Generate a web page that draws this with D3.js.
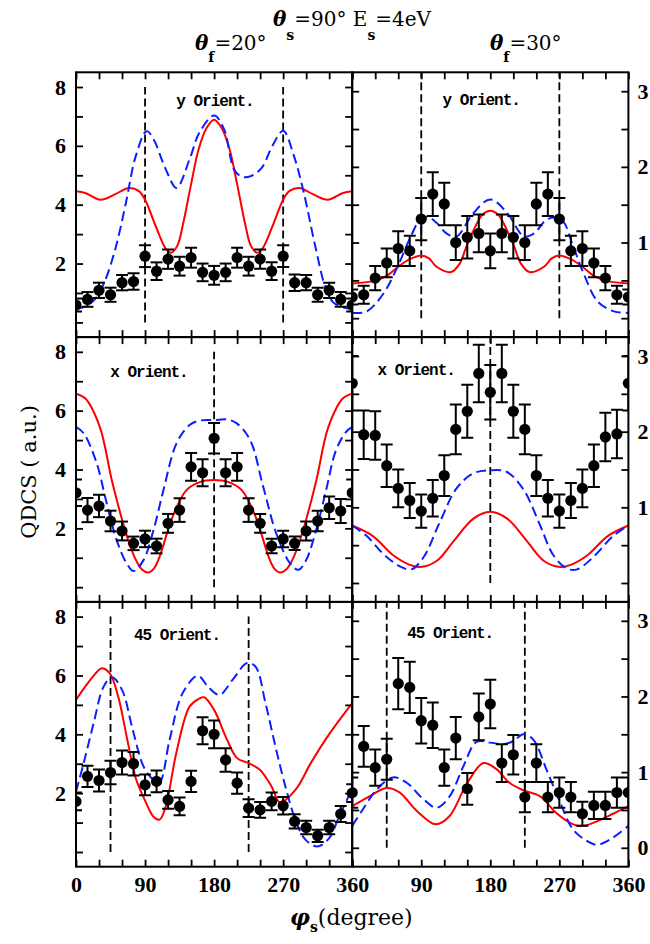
<!DOCTYPE html>
<html>
<head>
<meta charset="utf-8">
<script src="https://cdn.jsdelivr.net/npm/d3@7"></script>
<style>
body { margin: 0; background: #fff; }
</style>
</head>
<body>
<div id="chart"></div>
<script>

// ---- data ----
var phiPts = [0, 15, 30, 45, 60, 75, 90, 105, 120, 135, 150, 165, 180,
              195, 210, 225, 240, 255, 270, 285, 300, 315, 330, 345, 360];
var xTicks = [0, 30, 60, 90, 120, 150, 180, 210, 240, 270, 300, 330, 360];
var xLabels = [0, 90, 180, 270, 360];
var leftTicks = [0, 1, 2, 3, 4, 5, 6, 7, 8];
var leftLabels = [2, 4, 6, 8];
var rightTicks = [0, 0.5, 1, 1.5, 2, 2.5, 3];

// y orientation, theta_f = 20
var tlDots = [0.59, 0.78, 1.09, 0.94, 1.35, 1.39, 2.25, 1.74, 2.15, 1.91, 2.2, 1.70, 1.6,
              1.70, 2.2, 1.91, 2.15, 1.74, 2.25, 1.35, 1.35, 0.94, 1.09, 0.78, 0.59];
var tlErr = [0.22, 0.25, 0.26, 0.24, 0.26, 0.28, 0.37, 0.3, 0.33, 0.32, 0.34, 0.3, 0.32,
             0.3, 0.34, 0.32, 0.33, 0.3, 0.37, 0.28, 0.26, 0.24, 0.26, 0.25, 0.22];
var tlRed = [[0,4.46],[12,4.4],[32,4.17],[50,4.34],[69,4.57],[82,4.46],[90,4.17],[105,3.2],
             [117,2.51],[124,2.37],[132,2.6],[140,3.4],[150,4.7],[160,5.9],[170,6.6],[180,6.89],
             [190,6.6],[200,5.9],[210,4.7],[220,3.4],[228,2.6],[236,2.37],[243,2.51],[255,3.2],
             [270,4.17],[278,4.46],[291,4.57],[310,4.34],[328,4.17],[348,4.4],[360,4.46]];
var tlBlue = [[0,0.46],[12,0.54],[25,0.8],[38,1.43],[52,2.57],[65,4.06],[78,5.66],[92,6.5],
              [101,6.23],[117,5.2],[131,4.57],[148,5.54],[161,6.46],[180,7.03],[193,6.57],
              [206,5.2],[216,4.95],[228,4.97],[242,5.25],[256,6.0],[270,6.51],[284,5.66],
              [297,4.4],[312,2.57],[325,1.2],[335,0.69],[348,0.51],[360,0.46]];

// y orientation, theta_f = 30
var trDots = [0.28, 0.31, 0.53, 0.73, 0.92, 0.89, 1.31, 1.64, 1.51, 1.0, 1.07, 1.12, 0.89,
              1.12, 1.07, 1.0, 1.51, 1.64, 1.31, 0.89, 0.92, 0.73, 0.53, 0.31, 0.28];
var trErr = [0.1, 0.12, 0.16, 0.19, 0.23, 0.2, 0.28, 0.29, 0.28, 0.23, 0.28, 0.25, 0.23,
             0.25, 0.28, 0.23, 0.28, 0.29, 0.28, 0.2, 0.23, 0.19, 0.16, 0.12, 0.1];
var trRed = [[0,0.46],[27,0.49],[45,0.56],[60,0.68],[75,0.78],[90,0.83],[100,0.79],[110,0.68],
             [129,0.61],[140,0.72],[149,0.95],[160,1.2],[170,1.37],[180,1.42],[190,1.37],
             [200,1.2],[211,0.95],[220,0.72],[231,0.61],[250,0.68],[260,0.79],[270,0.83],
             [285,0.78],[300,0.68],[315,0.56],[333,0.49],[360,0.46]];
var trBlue = [[0,0.07],[19,0.09],[41,0.33],[60,0.7],[75,1.05],[90,1.32],[100,1.33],[110,1.26],
              [123,1.12],[136,1.08],[158,1.39],[180,1.57],[202,1.39],[224,1.08],[237,1.12],
              [253,1.3],[265,1.33],[275,1.28],[287,0.98],[302,0.58],[320,0.22],[341,0.09],[360,0.07]];

// x orientation, theta_f = 20
var mlDots = [3.21, 2.62, 2.76, 2.25, 1.91, 1.49, 1.64, 1.40, 2.17, 2.62, 4.09, 3.89, 5.06,
              3.89, 4.09, 2.62, 2.17, 1.40, 1.64, 1.49, 1.91, 2.25, 2.70, 2.59, 3.21];
var mlErr = [0.45, 0.41, 0.38, 0.35, 0.32, 0.23, 0.28, 0.25, 0.32, 0.4, 0.47, 0.46, 0.52,
             0.46, 0.47, 0.4, 0.32, 0.25, 0.28, 0.23, 0.32, 0.35, 0.38, 0.41, 0.45];
var mlRed = [[0,6.58],[12,6.42],[31,5.45],[47,3.6],[64,1.94],[76,1.04],[86,0.6],[94,0.5],
             [102,0.65],[109,1.04],[126,2.4],[144,3.30],[162,3.58],[180,3.64],[198,3.58],
             [216,3.30],[234,2.4],[251,1.04],[258,0.65],[266,0.5],[274,0.6],[284,1.04],
             [296,1.94],[313,3.6],[329,5.45],[348,6.42],[360,6.58]];
var mlBlue = [[0,5.45],[10,5.23],[27,4.21],[40,2.85],[53,1.6],[66,0.81],[75,0.55],[88,0.92],
              [101,1.94],[114,3.3],[131,4.89],[148,5.51],[161,5.66],[180,5.68],[197,5.70],
              [210,5.56],[227,5.0],[244,3.41],[261,1.83],[279,0.81],[290,0.59],[300,0.92],
              [313,1.94],[326,3.3],[339,4.66],[352,5.28],[360,5.45]];

// x orientation, theta_f = 30
var mrDots = [2.64, 1.96, 1.95, 1.55, 1.25, 1.09, 0.95, 1.12, 1.42, 2.03, 2.27, 2.77, 2.52,
              2.77, 2.27, 2.03, 1.42, 1.12, 0.95, 1.09, 1.25, 1.55, 1.93, 1.97, 2.64];
var mrErr = [0.36, 0.32, 0.32, 0.28, 0.25, 0.23, 0.22, 0.24, 0.27, 0.33, 0.35, 0.38, 0.36,
             0.38, 0.35, 0.33, 0.27, 0.24, 0.22, 0.23, 0.25, 0.28, 0.32, 0.32, 0.36];
var mrRed = [[0,0.76],[27,0.62],[53,0.37],[75,0.24],[88,0.21],[110,0.29],[132,0.55],[158,0.85],
             [180,0.94],[202,0.85],[228,0.55],[250,0.29],[272,0.21],[285,0.24],[307,0.37],
             [333,0.62],[360,0.76]];
var mrBlue = [[0,0.76],[19,0.62],[40,0.39],[62,0.22],[77,0.18],[93,0.34],[114,0.8],[136,1.25],
              [158,1.45],[180,1.49],[201,1.47],[223,1.24],[245,0.76],[262,0.37],[280,0.19],
              [293,0.18],[314,0.34],[340,0.62],[360,0.76]];

// 45 orientation, theta_f = 20
var blDots = [1.72, 2.57, 2.43, 2.70, 3.04, 3.0, 2.28, 2.40, 1.77, 1.55, 2.40, 4.12, 4.0,
              3.13, 2.34, 1.49, 1.43, 1.72, 1.57, 1.04, 0.83, 0.55, 0.83, 1.29, 2.0];
var blErr = [0.3, 0.36, 0.37, 0.4, 0.41, 0.4, 0.35, 0.37, 0.3, 0.3, 0.36, 0.46, 0.47,
             0.4, 0.36, 0.3, 0.27, 0.3, 0.3, 0.24, 0.23, 0.21, 0.23, 0.27, 0.3];
var blRed = [[0,5.17],[12,5.62],[24,6.02],[33,6.24],[44,6.07],[55,5.28],[67,3.8],[78,2.5],
             [90,1.75],[101,1.2],[109,1.1],[117,1.55],[131,3.4],[148,4.94],[160,5.2],[167,5.26],
             [180,4.83],[197,3.81],[210,3.19],[225,3.02],[240,2.79],[255,2.22],[266,1.68],
             [286,2.11],[306,3.02],[328,3.93],[360,5.06]];
var blBlue = [[0,2.05],[10,3.02],[23,4.38],[36,5.62],[47,5.94],[60,5.51],[74,4.15],[88,2.91],
              [101,2.45],[109,2.38],[122,3.81],[139,5.40],[159,5.99],[172,5.62],[187,5.34],
              [204,5.85],[223,6.42],[234,6.30],[247,5.06],[260,3.58],[273,2.22],[286,1.09],
              [299,0.42],[315,0.19],[330,0.47],[343,1.21],[360,2.15]];

// 45 orientation, theta_f = 30
var brDots = [0.73, 1.34, 1.06, 1.17, 2.17, 2.12, 1.68, 1.62, 1.06, 1.45, 0.78, 1.73, 1.90,
              1.12, 1.23, 0.67, 1.12, 0.67, 0.73, 0.67, 0.45, 0.56, 0.56, 0.73, 0.73];
var brErr = [0.2, 0.27, 0.24, 0.27, 0.34, 0.34, 0.3, 0.3, 0.24, 0.28, 0.21, 0.31, 0.32,
             0.25, 0.26, 0.2, 0.25, 0.2, 0.2, 0.2, 0.16, 0.18, 0.18, 0.2, 0.2];
var brRed = [[0,0.55],[19,0.66],[45,0.79],[62,0.73],[84,0.49],[109,0.31],[127,0.42],[149,0.84],
             [171,1.12],[188,1.04],[205,0.86],[223,0.76],[245,0.68],[266,0.46],[288,0.31],
             [301,0.29],[319,0.35],[340,0.45],[360,0.55]];
var brBlue = [[0,0.29],[14,0.51],[32,0.77],[53,0.93],[71,0.86],[93,0.64],[110,0.53],[127,0.68],
              [145,1.08],[162,1.40],[180,1.39],[197,1.37],[210,1.41],[223,1.50],[236,1.43],
              [253,1.04],[271,0.60],[288,0.24],[306,0.09],[319,0.04],[336,0.11],[360,0.29]];

var panels = [
	{row: 0, col: 0, label: 'y Orient.', lx: 139, ly: 34, dots: tlDots, err: tlErr, red: tlRed, blue: tlBlue, vlines: [90, 270]},
	{row: 0, col: 1, label: 'y Orient.', lx: 129, ly: 33, dots: trDots, err: trErr, red: trRed, blue: trBlue, vlines: [90, 270]},
	{row: 1, col: 0, label: 'x Orient.', lx: 73, ly: 40, dots: mlDots, err: mlErr, red: mlRed, blue: mlBlue, vlines: [180]},
	{row: 1, col: 1, label: 'x Orient.', lx: 64, ly: 38, dots: mrDots, err: mrErr, red: mrRed, blue: mrBlue, vlines: [180]},
	{row: 2, col: 0, label: '45 Orient.', lx: 101, ly: 38, dots: blDots, err: blErr, red: blRed, blue: blBlue, vlines: [45, 225]},
	{row: 2, col: 1, label: '45 Orient.', lx: 98, ly: 36, dots: brDots, err: brErr, red: brRed, blue: brBlue, vlines: [45, 225]}
];

// ---- layout ----
var marginLeft = 76, marginTop = 72.3;
var panelW = 276.2, panelH = 264.8;
var serif = '"DejaVu Serif", serif';
var tickFont = '"Liberation Serif", "Times New Roman", serif';

var svg = d3.select('#chart')
    .append('svg')
    .attr('width', 650)
    .attr('height', 944);

svg.append('rect')
    .attr('width', 650)
    .attr('height', 944)
    .attr('fill', '#fff');

var defs = svg.append('defs');

// text made of pieces, each [text, style]
var richText = function(parent, x, y, parts, size) {
	var t = parent.append('text')
	    .attr('x', x)
	    .attr('y', y)
	    .attr('font-family', serif)
	    .attr('font-size', size);
	parts.forEach(function(p) {
		var s = t.append('tspan').text(p[0]);
		var st = p[1] || {};
		if (st.it) s.attr('font-style', 'italic');
		if (st.bold) s.attr('font-weight', 'bold');
		if (st.size) s.attr('font-size', st.size);
		if (st.dy) s.attr('dy', st.dy);
	});
	return t;
}

var curve = d3.line()
    .curve(d3.curveCatmullRom.alpha(0.5));

panels.forEach(function(p, i) {
	var x0 = marginLeft + p.col * panelW;
	var y0 = marginTop + p.row * panelH;
	var x = d3.scaleLinear().domain([0, 360]).range([x0, x0 + panelW]);
	var y = d3.scaleLinear()
	    .domain(p.col == 0 ? [-0.5, 8.5] : [-0.25, 3.25])
	    .range([y0 + panelH, y0]);
	var vTop = p.col == 0 ? 8 : 3.25;

	defs.append('clipPath').attr('id', 'clip' + i)
	    .append('rect')
	    .attr('x', x0).attr('y', y0)
	    .attr('width', panelW).attr('height', panelH);

	var g = svg.append('g');
	var plot = g.append('g').attr('clip-path', 'url(#clip' + i + ')');

	plot.selectAll('.vline')
	    .data(p.vlines)
	    .enter().append('line')
	    .attr('x1', function(d) { return x(d); })
	    .attr('x2', function(d) { return x(d); })
	    .attr('y1', y(0))
	    .attr('y2', y(vTop))
	    .attr('stroke', '#000')
	    .attr('stroke-width', 1.8)
	    .attr('stroke-dasharray', '8,4');

	curve.x(function(d) { return x(d[0]); }).y(function(d) { return y(d[1]); });

	plot.append('path')
	    .attr('d', curve(p.red))
	    .attr('fill', 'none')
	    .attr('stroke', '#ff0000')
	    .attr('stroke-width', 2);

	plot.append('path')
	    .attr('d', curve(p.blue))
	    .attr('fill', 'none')
	    .attr('stroke', '#0a1eff')
	    .attr('stroke-width', 2)
	    .attr('stroke-dasharray', '10,5');

	var pts = p.dots.map(function(v, k) { return {phi: phiPts[k], v: v, e: p.err[k]}; });
	var bars = plot.selectAll('.bar').data(pts).enter().append('g');
	bars.append('line')
	    .attr('x1', function(d) { return x(d.phi); })
	    .attr('x2', function(d) { return x(d.phi); })
	    .attr('y1', function(d) { return y(d.v - d.e); })
	    .attr('y2', function(d) { return y(d.v + d.e); });
	bars.append('line')
	    .attr('x1', function(d) { return x(d.phi) - 6; })
	    .attr('x2', function(d) { return x(d.phi) + 6; })
	    .attr('y1', function(d) { return y(d.v + d.e); })
	    .attr('y2', function(d) { return y(d.v + d.e); });
	bars.append('line')
	    .attr('x1', function(d) { return x(d.phi) - 6; })
	    .attr('x2', function(d) { return x(d.phi) + 6; })
	    .attr('y1', function(d) { return y(d.v - d.e); })
	    .attr('y2', function(d) { return y(d.v - d.e); });
	bars.selectAll('line').attr('stroke', '#000').attr('stroke-width', 2);
	bars.append('circle')
	    .attr('cx', function(d) { return x(d.phi); })
	    .attr('cy', function(d) { return y(d.v); })
	    .attr('r', 5.6)
	    .attr('fill', '#000');

	// axes, ticks pointing inward on every side
	var bottomAx = d3.axisBottom(x).tickValues(xTicks).tickSize(-7).tickSizeOuter(0).tickPadding(10)
	    .tickFormat(function(d) {
	    	if (p.row != 2 || xLabels.indexOf(d) < 0) return '';
	    	if (p.col == 1 && d == 0) return '';
	    	return d;
	    });
	var topAx = d3.axisTop(x).tickValues(xTicks).tickSize(-7).tickSizeOuter(0).tickFormat('');
	var leftAx, rightAx;
	if (p.col == 0) {
		leftAx = d3.axisLeft(y).tickValues(leftTicks).tickSize(-7).tickSizeOuter(0).tickPadding(10)
		    .tickFormat(function(d) { return leftLabels.indexOf(d) >= 0 ? d : ''; });
		rightAx = d3.axisRight(y).tickValues(leftTicks).tickSize(-7).tickSizeOuter(0).tickFormat('');
	} else {
		leftAx = d3.axisLeft(y).tickValues(rightTicks).tickSize(-7).tickSizeOuter(0).tickFormat('');
		rightAx = d3.axisRight(y).tickValues(rightTicks).tickSize(-7).tickSizeOuter(0).tickPadding(9)
		    .tickFormat(function(d) {
		    	if (d % 1 != 0) return '';
		    	if (d == 0 && p.row != 2) return '';
		    	return d;
		    });
	}
	g.append('g').attr('transform', 'translate(0,' + (y0 + panelH) + ')').call(bottomAx);
	g.append('g').attr('transform', 'translate(0,' + y0 + ')').call(topAx);
	g.append('g').attr('transform', 'translate(' + x0 + ',0)').call(leftAx);
	g.append('g').attr('transform', 'translate(' + (x0 + panelW) + ',0)').call(rightAx);
	g.selectAll('.domain').remove();
	g.selectAll('.tick line').attr('stroke', '#000').attr('stroke-width', 1.8);
	g.selectAll('.tick text')
	    .attr('fill', '#000')
	    .attr('font-family', tickFont)
	    .attr('font-weight', 'bold')
	    .attr('font-size', 22);

	g.append('rect')
	    .attr('x', x0).attr('y', y0)
	    .attr('width', panelW).attr('height', panelH)
	    .attr('fill', 'none')
	    .attr('stroke', '#000')
	    .attr('stroke-width', 2);

	g.append('text')
	    .attr('x', x0 + p.lx)
	    .attr('y', y0 + p.ly)
	    .attr('text-anchor', 'middle')
	    .attr('font-family', '"Liberation Mono", "DejaVu Sans Mono", monospace')
	    .attr('font-weight', 'bold')
	    .attr('font-size', 16)
	    .attr('letter-spacing', -1)
	    .text(p.label);
});

// titles
richText(svg, 273, 26, [['θ', {it: true, bold: true}], ['s', {bold: true, size: 14, dy: 14}],
                        ['=90°  E', {dy: -14}], ['s', {bold: true, size: 14, dy: 14}], ['=4eV', {dy: -14}]], 20);
richText(svg, 195, 50, [['θ', {it: true, bold: true}], ['f', {bold: true, size: 14, dy: 12}],
                        ['=20°', {dy: -12}]], 20);
richText(svg, 490, 50, [['θ', {it: true, bold: true}], ['f', {bold: true, size: 14, dy: 12}],
                        ['=30°', {dy: -12}]], 20);

// axis titles
richText(svg, 290, 925, [['φ', {it: true, bold: true}], ['s', {bold: true, size: 14, dy: 7}],
                         ['(degree)', {dy: -7}]], 22);

svg.append('text')
    .attr('transform', 'translate(36,472) rotate(-90)')
    .attr('text-anchor', 'middle')
    .attr('font-family', serif)
    .attr('font-size', 21)
    .text('QDCS ( a.u.)');

</script>
</body>
</html>
